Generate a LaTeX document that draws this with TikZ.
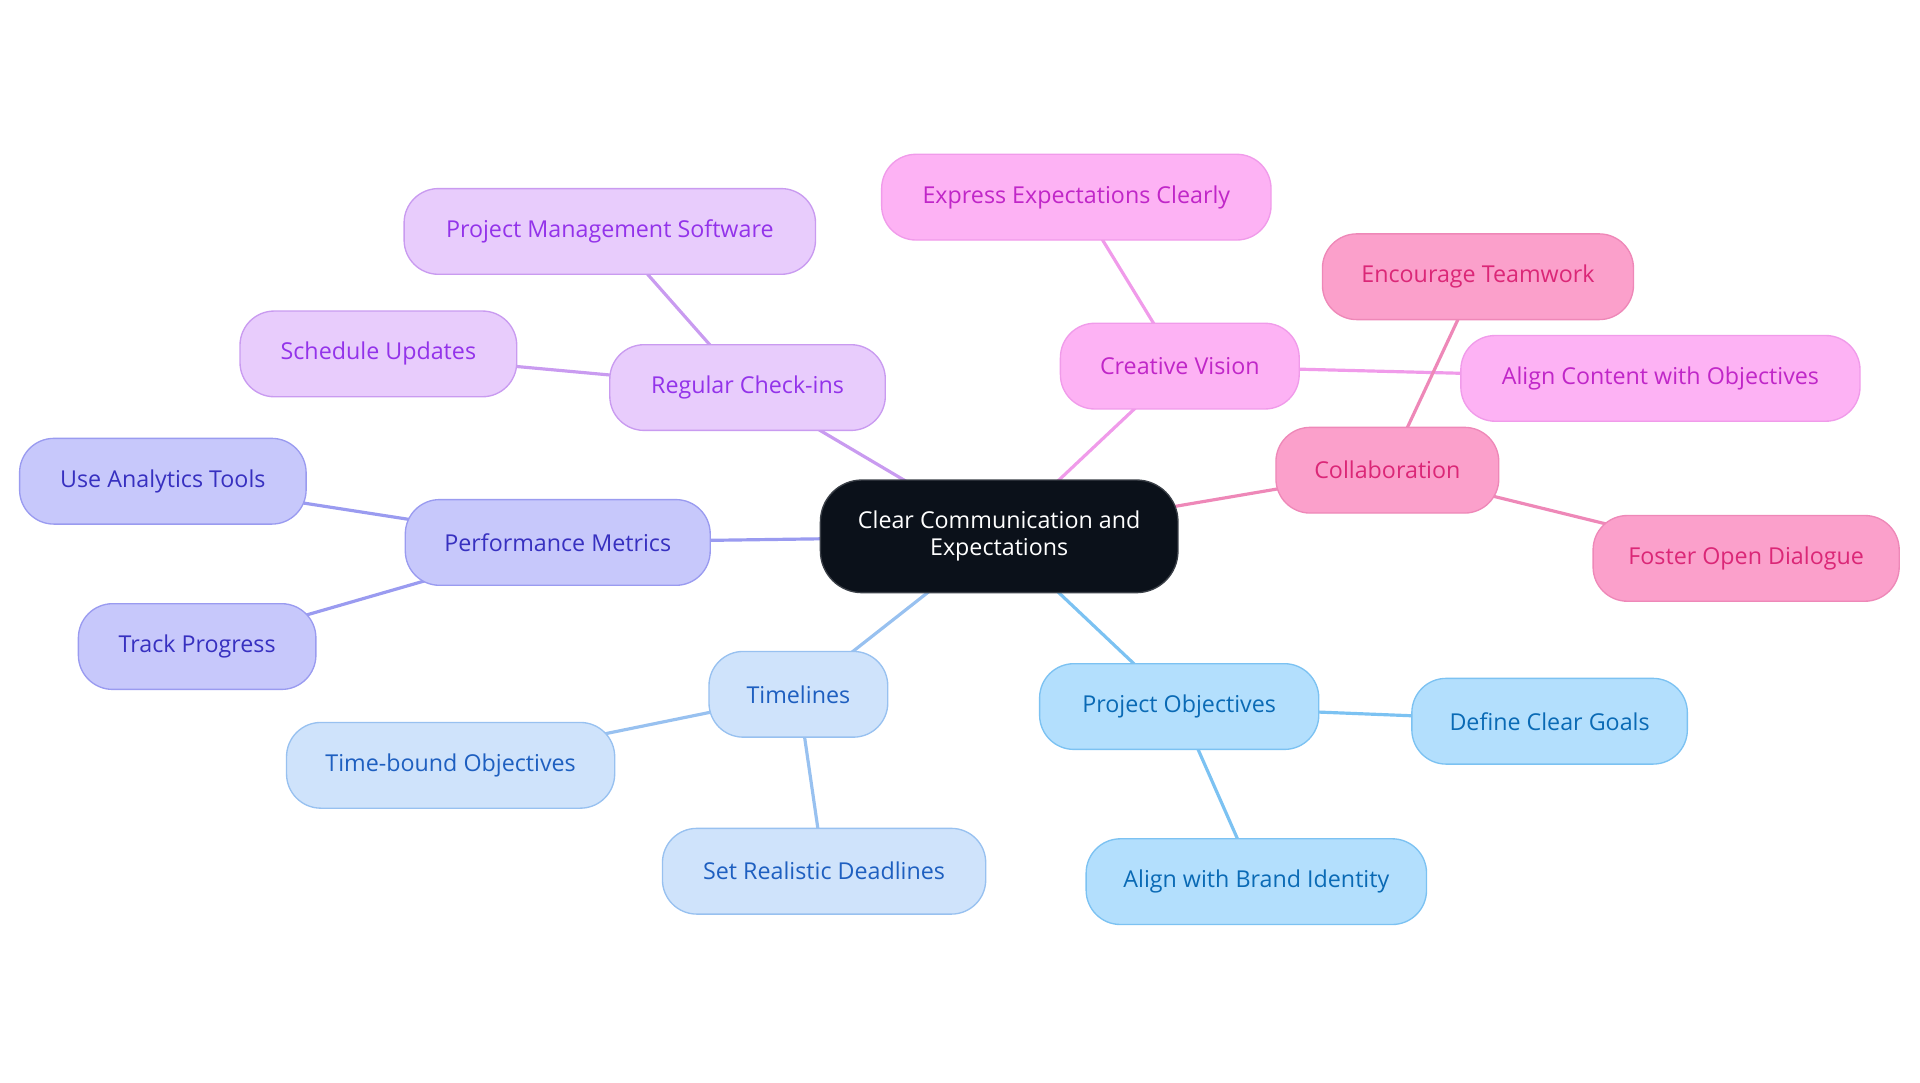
\documentclass[tikz,border=0pt]{standalone}
\usepackage{fontspec}
\setmainfont{Open Sans}
\usetikzlibrary{backgrounds}
\definecolor{cfill}{HTML}{0B111A}
\definecolor{cdraw}{HTML}{3A3F47}
\definecolor{pufill}{HTML}{E8CCFC}
\definecolor{pudraw}{HTML}{C99BF0}
\definecolor{putext}{HTML}{9333EA}
\definecolor{infill}{HTML}{C7C8FB}
\definecolor{indraw}{HTML}{9A9BF0}
\definecolor{intext}{HTML}{3730C0}
\definecolor{lbfill}{HTML}{CFE3FB}
\definecolor{lbdraw}{HTML}{98C1F0}
\definecolor{lbtext}{HTML}{1E5FC0}
\definecolor{skfill}{HTML}{B3DFFD}
\definecolor{skdraw}{HTML}{7CC2F2}
\definecolor{sktext}{HTML}{0A6AB5}
\definecolor{fufill}{HTML}{FDB2F4}
\definecolor{fudraw}{HTML}{F09BEA}
\definecolor{futext}{HTML}{C026C8}
\definecolor{pkfill}{HTML}{FBA0CB}
\definecolor{pkdraw}{HTML}{EE88B8}
\definecolor{pktext}{HTML}{DB2777}
\begin{document}
\begin{tikzpicture}[x=1pt,y=-1pt,
  base/.style={rounded corners=28pt, line width=1.1pt, minimum height=70pt, inner sep=0pt,
    font=\fontsize{19}{22}\selectfont, align=center},
  pubox/.style={base, fill=pufill, draw=pudraw, text=putext},
  inbox/.style={base, fill=infill, draw=indraw, text=intext},
  lbbox/.style={base, fill=lbfill, draw=lbdraw, text=lbtext},
  skbox/.style={base, fill=skfill, draw=skdraw, text=sktext},
  fubox/.style={base, fill=fufill, draw=fudraw, text=futext},
  pkbox/.style={base, fill=pkfill, draw=pkdraw, text=pktext},
  cbox/.style={base, rounded corners=34pt, fill=cfill, draw=cdraw, text=white, minimum height=92pt},
  edge/.style={line width=2.6pt}
]
\path[use as bounding box] (0,0) rectangle (1568,884);

\node[cbox, minimum width=292pt] (c) at (816,438) {Clear Communication and\\Expectations};

\node[pubox, minimum width=225pt] (rc) at (610.5,316.5) {Regular Check-ins};
\node[pubox, minimum width=336pt] (pms) at (498,189) {Project Management Software};
\node[pubox, minimum width=226pt] (su) at (309,289) {Schedule Updates};

\node[inbox, minimum width=249pt] (pm) at (455.5,443) {Performance Metrics};
\node[inbox, minimum width=234pt] (uat) at (133,393) {Use Analytics Tools};
\node[inbox, minimum width=194pt] (tp) at (161,528) {Track Progress};

\node[lbbox, minimum width=146pt] (tl) at (652,567) {Timelines};
\node[lbbox, minimum width=268pt] (tbo) at (368,625) {Time-bound Objectives};
\node[lbbox, minimum width=264pt] (srd) at (673,711.5) {Set Realistic Deadlines};

\node[skbox, minimum width=228pt] (po) at (963,577) {Project Objectives};
\node[skbox, minimum width=225pt] (dcg) at (1265.5,589) {Define Clear Goals};
\node[skbox, minimum width=278pt] (abi) at (1026,720) {Align with Brand Identity};

\node[fubox, minimum width=195pt] (cv) at (963.5,299) {Creative Vision};
\node[fubox, minimum width=318pt] (eec) at (879,161) {Express Expectations Clearly};
\node[fubox, minimum width=326pt] (aco) at (1356,309) {Align Content with Objectives};

\node[pkbox, minimum width=182pt] (co) at (1133,384) {Collaboration};
\node[pkbox, minimum width=254pt] (et) at (1207,226) {Encourage Teamwork};
\node[pkbox, minimum width=250pt] (fod) at (1426,456) {Foster Open Dialogue};

\begin{scope}[on background layer]
\draw[edge, pudraw] (c.center) -- (rc.center);
\draw[edge, pudraw] (rc.center) -- (pms.center);
\draw[edge, pudraw] (rc.center) -- (su.center);
\draw[edge, indraw] (c.center) -- (pm.center);
\draw[edge, indraw] (pm.center) -- (uat.center);
\draw[edge, indraw] (pm.center) -- (tp.center);
\draw[edge, lbdraw] (c.center) -- (tl.center);
\draw[edge, lbdraw] (tl.center) -- (tbo.center);
\draw[edge, lbdraw] (tl.center) -- (srd.center);
\draw[edge, skdraw] (c.center) -- (po.center);
\draw[edge, skdraw] (po.center) -- (dcg.center);
\draw[edge, skdraw] (po.center) -- (abi.center);
\draw[edge, fudraw] (c.center) -- (cv.center);
\draw[edge, fudraw] (cv.center) -- (eec.center);
\draw[edge, fudraw] (cv.center) -- (aco.center);
\draw[edge, pkdraw] (c.center) -- (co.center);
\draw[edge, pkdraw] (co.center) -- (et.center);
\draw[edge, pkdraw] (co.center) -- (fod.center);
\end{scope}
\end{tikzpicture}
\end{document}
